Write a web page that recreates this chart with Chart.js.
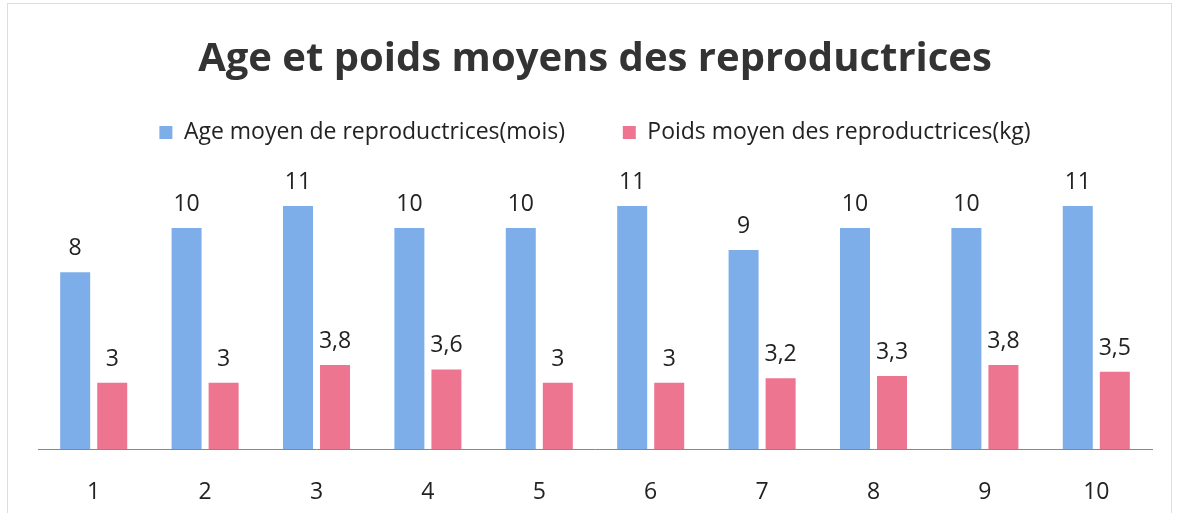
<!DOCTYPE html>
<html>
<head>
<meta charset="utf-8">
<script src="https://cdn.jsdelivr.net/npm/chart.js@4/dist/chart.umd.min.js"></script>
<style>
  html, body { margin: 0; padding: 0; background: #fff; }
  #wrap { position: relative; width: 1181px; height: 513px; }
  #frame { position: absolute; left: 7px; top: 3px; width: 1163px; height: 512px; border: 1px solid #ddd; border-bottom: none; pointer-events: none; }
</style>
</head>
<body>
<div id="wrap"><canvas id="chart" width="1181" height="513"></canvas><div id="frame"></div></div>
<script>
// --- Data ---
const categories = ['1', '2', '3', '4', '5', '6', '7', '8', '9', '10'];
const ageMoyen = [8, 10, 11, 10, 10, 11, 9, 10, 10, 11];
const poidsMoyen = [3, 3, 3.8, 3.6, 3, 3, 3.2, 3.3, 3.8, 3.5];
const seriesNames = ['Age moyen de reproductrices(mois)', 'Poids moyen des reproductrices(kg)'];

const FONT = "'Open Sans', 'Liberation Sans', sans-serif";

// --- Value labels above bars (comma decimal) ---
const valueLabels = {
    id: 'valueLabels',
    afterDatasetsDraw(chart) {
        const ctx = chart.ctx;
        ctx.save();
        ctx.font = '23px ' + FONT;
        ctx.fillStyle = '#222';
        ctx.textAlign = 'center';
        ctx.textBaseline = 'bottom';
        chart.data.datasets.forEach((ds, i) => {
            chart.getDatasetMeta(i).data.forEach((bar, j) => {
                const txt = String(ds.data[j]).replace('.', ',');
                ctx.fillText(txt, bar.x, bar.y - 12);
            });
        });
        ctx.restore();
    }
};

new Chart(document.getElementById('chart'), {
    type: 'bar',
    data: {
        labels: categories,
        datasets: [
            { label: seriesNames[0], data: ageMoyen, backgroundColor: '#7DAEE9', categoryPercentage: 0.665, barPercentage: 0.81 },
            { label: seriesNames[1], data: poidsMoyen, backgroundColor: '#EE7590', categoryPercentage: 0.665, barPercentage: 0.81 }
        ]
    },
    options: {
        responsive: false,
        animation: false,
        layout: { padding: { left: 38, right: 29, top: 0, bottom: 0 } },
        plugins: {
            title: {
                display: true,
                text: 'Age et poids moyens des reproductrices',
                color: '#333',
                font: { family: FONT, size: 40, weight: 'bold' },
                padding: { top: 36, bottom: 27 }
            },
            legend: {
                display: true,
                labels: {
                    color: '#222',
                    font: { family: FONT, size: 23 },
                    boxWidth: 13,
                    boxHeight: 13,
                    padding: 10,
                    generateLabels(chart) {
                        const items = Chart.defaults.plugins.legend.labels.generateLabels(chart);
                        // widen the gap between the two entries
                        items[0].text = items[0].text + '        ';
                        return items;
                    }
                }
            },
            tooltip: { enabled: false }
        },
        scales: {
            x: {
                grid: { display: false, drawTicks: false },
                border: { color: '#888', width: 1 },
                ticks: { color: '#222', font: { family: FONT, size: 23 }, padding: 30 },
                afterFit(scale) { scale.height = 64; }
            },
            y: {
                display: false,
                min: 0,
                max: 13.35
            }
        }
    },
    plugins: [valueLabels]
});
</script>
</body>
</html>
